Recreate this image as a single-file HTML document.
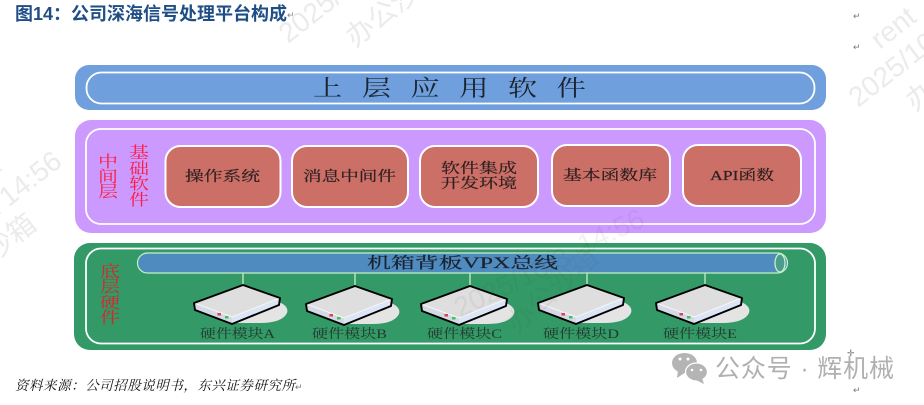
<!DOCTYPE html>
<html lang="zh">
<head>
<meta charset="utf-8">
<style>
html,body{margin:0;padding:0;background:#fff;width:924px;height:405px;overflow:hidden}
svg{display:block}
text{font-family:"Liberation Serif","Noto Serif CJK SC",serif}
.s{font-family:"Liberation Sans","Noto Sans CJK SC",sans-serif}
.wm{font-family:"Liberation Sans","Noto Sans CJK SC",sans-serif;fill:#ebebeb;font-size:28px}
.wo{font-family:"Liberation Sans","Noto Sans CJK SC",sans-serif;fill:rgba(70,70,70,.07);font-size:28px}
.lbl{font-size:14px;fill:#2e2020;stroke:#2e2020;stroke-width:.2}
.mod{font-size:13px;fill:#243a30}
.red{font-size:16px;text-anchor:middle}
</style>
</head>
<body>
<svg width="924" height="405" viewBox="0 0 924 405" xmlns="http://www.w3.org/2000/svg">
<defs>
<g id="srv">
<path d="M270,299 Q290,304 287,313 Q282,323 260,323 L232,323 Z" fill="#e4e4e4"/>
<polygon points="243,285 280,298 279,305 232,324 195,310 194,303" fill="#dedede"/>
<polygon points="194,303 232,317 232,324 195,310" fill="#d4d9e6"/>
<polygon points="232,317 280,298 279,305 232,324" fill="#dbe5f6"/>
<path d="M194,303 L232,317 L280,298" fill="none" stroke="#f6f6f6" stroke-width="1"/>
<polygon points="243,285 280,298 279,305 232,324 195,310 194,303" fill="none" stroke="#000" stroke-width="1.900" stroke-linejoin="round"/>
<rect x="217.500" y="313" width="3.500" height="2.500" fill="#e0404a"/>
<rect x="225" y="316" width="3.500" height="2.500" fill="#3cc45a"/>
</g>
</defs>

<!-- watermarks under -->
<text class="wm" transform="translate(288,44) rotate(-38)">2025/10/</text>
<text class="wm" transform="translate(355,48) rotate(-38)">办公沙箱</text>
<text class="wm" transform="translate(858,108) rotate(-38)">2025/10</text>
<text class="wm" transform="translate(880,50) rotate(-38)">rent</text>
<text class="wm" transform="translate(915,112) rotate(-38)">办</text>
<text class="wm" transform="translate(-8,178) rotate(-38)">x</text>
<text class="wm" transform="translate(-10,222) rotate(-38)">1 14:56</text>
<text class="wm" transform="translate(-6,262) rotate(-38)">沙箱</text>

<!-- title -->
<text class="s" x="15" y="20" font-size="18" font-weight="700" fill="#1f4e86" textLength="272" lengthAdjust="spacing">图14：公司深海信号处理平台构成</text>
<text class="s" x="287" y="18" font-size="9" fill="#888">↵</text>
<text class="s" x="853" y="19" font-size="9" fill="#777">↵</text>
<text class="s" x="853" y="50" font-size="9" fill="#777">↵</text>

<!-- top layer -->
<rect x="75" y="65" width="751" height="45" rx="14" fill="#6f9fdc"/>
<rect x="86.500" y="72.500" width="728" height="31" rx="15" fill="none" stroke="#fff" stroke-width="1.800"/>
<text transform="translate(313,96) scale(1.3,1)" font-size="22.500" fill="#1c2430" letter-spacing="15">上层应用软件</text>

<!-- middle layer -->
<rect x="75" y="120" width="751" height="113" rx="16" fill="#cc99ff"/>
<rect x="86" y="129" width="729" height="95" rx="15" fill="none" stroke="#fff" stroke-width="1.800"/>
<text class="red" transform="translate(108,167) scale(1.25,1)" fill="#ff1a40">中</text>
<text class="red" transform="translate(108,182) scale(1.25,1)" fill="#ff1a40">间</text>
<text class="red" transform="translate(108,197) scale(1.25,1)" fill="#ff1a40">层</text>
<text class="red" transform="translate(139,158) scale(1.25,1)" fill="#ff1a40">基</text>
<text class="red" transform="translate(139,174) scale(1.25,1)" fill="#ff1a40">础</text>
<text class="red" transform="translate(139,189) scale(1.25,1)" fill="#ff1a40">软</text>
<text class="red" transform="translate(139,205) scale(1.25,1)" fill="#ff1a40">件</text>
<g fill="#cc6f67" stroke="#fff" stroke-width="2">
<rect x="165.500" y="146" width="115" height="61" rx="15"/>
<rect x="292" y="146" width="116" height="61" rx="15"/>
<rect x="420" y="146" width="118" height="61" rx="15"/>
<rect x="552" y="145" width="118" height="61" rx="15"/>
<rect x="683" y="145" width="118" height="61" rx="15"/>
</g>
<text class="lbl" x="185" y="181" textLength="75" lengthAdjust="spacingAndGlyphs">操作系统</text>
<text class="lbl" x="303" y="181" textLength="93" lengthAdjust="spacingAndGlyphs">消息中间件</text>
<text class="lbl" x="441" y="173" textLength="76" lengthAdjust="spacingAndGlyphs">软件集成</text>
<text class="lbl" x="441" y="188" textLength="76" lengthAdjust="spacingAndGlyphs">开发环境</text>
<text class="lbl" x="563" y="180" textLength="94" lengthAdjust="spacingAndGlyphs">基本函数库</text>
<text class="lbl" x="710" y="180" textLength="64" lengthAdjust="spacingAndGlyphs">API函数</text>

<!-- bottom layer -->
<rect x="74" y="243" width="752" height="107" rx="16" fill="#339966"/>
<rect x="86" y="248.500" width="729" height="95" rx="15" fill="none" stroke="#fff" stroke-width="1.800"/>
<text class="red" transform="translate(110,277) scale(1.25,1)" fill="#d8262c">底</text>
<text class="red" transform="translate(110,292) scale(1.25,1)" fill="#d8262c">层</text>
<text class="red" transform="translate(110,308) scale(1.25,1)" fill="#d8262c">硬</text>
<text class="red" transform="translate(110,323) scale(1.25,1)" fill="#d8262c">件</text>

<!-- connectors -->
<g stroke="#c4f0c8" stroke-width="1.300">
<line x1="243" y1="273" x2="243" y2="285"/>
<line x1="355" y1="273" x2="355" y2="287"/>
<line x1="470" y1="273" x2="470" y2="287"/>
<line x1="587" y1="273" x2="587" y2="285"/>
<line x1="705" y1="273" x2="705" y2="285"/>
</g>

<!-- bus -->
<rect x="137.500" y="253" width="650" height="20" rx="10" fill="#4f8bbf" stroke="#c4f0c8" stroke-width="1.200"/>
<ellipse cx="780" cy="263" rx="5" ry="9" fill="#4a9c8c" stroke="#c4f0c8" stroke-width="1.300"/>
<text x="367" y="268" font-size="15.500" fill="#1a2330" stroke="#1a2330" stroke-width=".2" textLength="191" lengthAdjust="spacingAndGlyphs">机箱背板VPX总线</text>

<!-- servers -->
<use href="#srv"/>
<use href="#srv" transform="translate(112,1)"/>
<use href="#srv" transform="translate(227,1)"/>
<use href="#srv" transform="translate(344,0)"/>
<use href="#srv" transform="translate(462,0)"/>

<text class="mod" x="200" y="338" textLength="75" lengthAdjust="spacingAndGlyphs">硬件模块A</text>
<text class="mod" x="312" y="338" textLength="75" lengthAdjust="spacingAndGlyphs">硬件模块B</text>
<text class="mod" x="427" y="338" textLength="75" lengthAdjust="spacingAndGlyphs">硬件模块C</text>
<text class="mod" x="543" y="338" textLength="76" lengthAdjust="spacingAndGlyphs">硬件模块D</text>
<text class="mod" x="663" y="338" textLength="74" lengthAdjust="spacingAndGlyphs">硬件模块E</text>

<!-- watermarks over the diagram -->
<text class="wo" transform="translate(460,318) rotate(-26)" font-size="24">2025/10/3</text>
<text class="wo" transform="translate(517,335) rotate(-42)" font-size="24">办公沙箱</text>
<text class="wo" transform="translate(583,255) rotate(-25)" font-size="22">14:56</text>

<!-- source -->
<text x="15" y="390" font-size="13.500" font-style="italic" fill="#111" font-family="'Noto Serif CJK SC',serif" textLength="280" lengthAdjust="spacing">资料来源：公司招股说明书，东兴证券研究所</text>
<text class="s" x="295" y="390" font-size="9" fill="#777">↵</text>
<text class="s" x="847" y="356" font-size="9" fill="#777">✛</text>
<text class="s" x="853" y="393" font-size="9" fill="#777">↵</text>

<!-- wechat mark -->
<g fill="#b4b4b4">
<ellipse cx="684.500" cy="363" rx="12.500" ry="10"/>
<polygon points="678,370 677,378 686,372"/>
<ellipse cx="696.500" cy="372" rx="11" ry="9" stroke="#fff" stroke-width="1.300"/>
<polygon points="702,378 704,384 696,380"/>
</g>
<g fill="#fff">
<circle cx="680" cy="359" r="1.500"/><circle cx="688" cy="359" r="1.500"/>
<circle cx="692" cy="370" r="1.300"/><circle cx="701" cy="370" r="1.300"/>
</g>
<text class="s" x="715" y="377" font-size="25" fill="#b0b0b0" textLength="179" lengthAdjust="spacing">公众号 · 辉机械</text>
</svg>
</body>
</html>
